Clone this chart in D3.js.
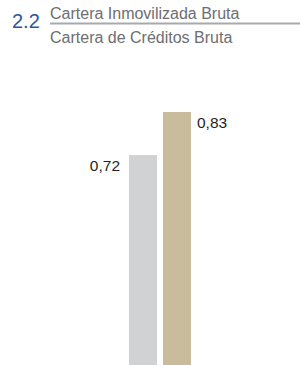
<!DOCTYPE html>
<html><head><meta charset="utf-8">
<script src="https://cdn.jsdelivr.net/npm/d3@7"></script>
<style>body{margin:0;background:#fff}svg{display:block}</style>
</head><body>
<svg id="c" width="300" height="365"></svg>
<script>
const categories = ["A", "B"];
const values = [0.72, 0.83];
const labels = ["0,72", "0,83"];
const colors = ["#d1d2d4", "#c9bc9c"];
const titleNum = "2.2";
const titleTop = "Cartera Inmovilizada Bruta";
const titleBottom = "Cartera de Créditos Bruta";

const svg = d3.select("#c");
const font = "'Liberation Sans', Arial, Helvetica, sans-serif";

svg.append("text").attr("x", 12).attr("y", 28).attr("font-family", font)
  .attr("font-size", 20).attr("fill", "#2d559f").text(titleNum);
svg.append("text").attr("x", 50).attr("y", 19).attr("font-family", font)
  .attr("font-size", 16).attr("fill", "#6d6e71").text(titleTop);
svg.append("line").attr("x1", 50).attr("x2", 300).attr("y1", 23.5).attr("y2", 23.5)
  .attr("stroke", "#a7a9ac").attr("stroke-width", 2);
svg.append("text").attr("x", 50).attr("y", 43).attr("font-family", font)
  .attr("font-size", 16).attr("fill", "#6d6e71").text(titleBottom);

const x = d3.scaleBand().domain(categories).range([129, 191]).paddingInner(0.176).paddingOuter(0);
const y = d3.scaleLinear().domain([0, 0.83]).range([437, 112]);

svg.selectAll("rect.bar").data(values).enter().append("rect")
  .attr("class", "bar")
  .attr("x", (d, i) => x(categories[i]))
  .attr("width", x.bandwidth())
  .attr("y", d => y(d))
  .attr("height", d => y(0) - y(d))
  .attr("fill", (d, i) => colors[i]);

svg.selectAll("text.lab").data(values).enter().append("text")
  .attr("class", "lab")
  .attr("font-family", font).attr("font-size", 15.5).attr("fill", "#231f20")
  .attr("x", (d, i) => i === 0 ? x(categories[i]) - 9 : x(categories[i]) + x.bandwidth() + 6)
  .attr("text-anchor", (d, i) => i === 0 ? "end" : "start")
  .attr("y", d => y(d) + 16)
  .text((d, i) => labels[i]);
</script>
</body></html>
